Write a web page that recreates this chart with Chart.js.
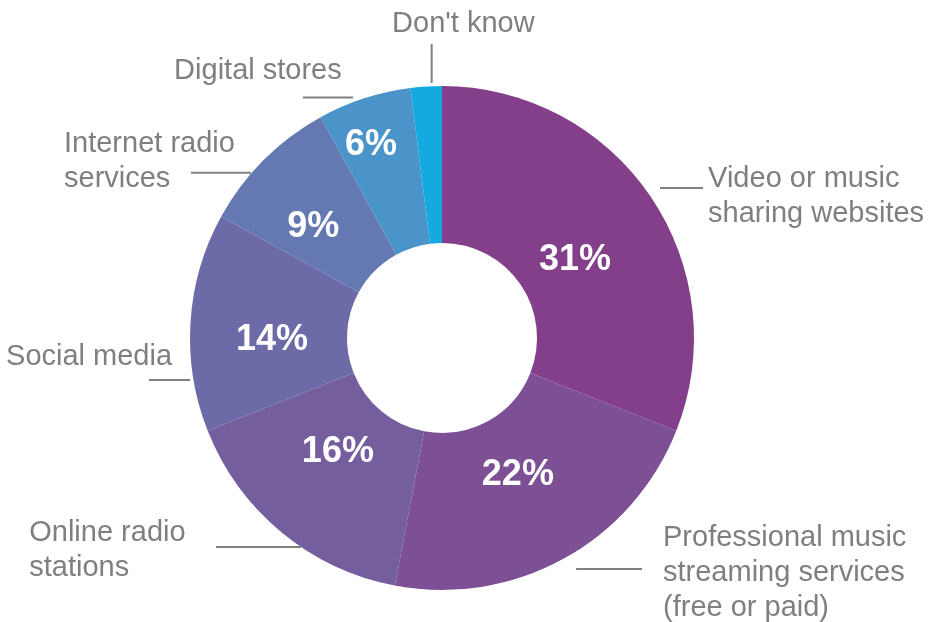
<!DOCTYPE html>
<html>
<head>
<meta charset="utf-8">
<script src="https://cdn.jsdelivr.net/npm/chart.js@4/dist/chart.umd.min.js"></script>
<style>
	html, body { margin: 0; padding: 0; background: #ffffff; }
	canvas { display: block; }
</style>
</head>
<body>
<canvas id="js_chart_canvas" width="929" height="622"></canvas>
<script>

	// Chart data
	let categories = [
		[ "Video or music", "sharing websites" ],
		[ "Professional music", "streaming services", "(free or paid)" ],
		[ "Online radio", "stations" ],
		[ "Social media" ],
		[ "Internet radio", "services" ],
		[ "Digital stores" ],
		[ "Don't know" ]
	]
	let shares = [ 31, 22, 16, 14, 9, 6, 2 ]
	let shareLabels = [ "31%", "22%", "16%", "14%", "9%", "6%", "" ]

	let sliceColors = [
		"#833f89", "#7d5096", "#745e9e", "#6c6ba8", "#6479b2", "#4a94c9", "#14aadf"
	]

	// where the percentage sits in its slice: fraction of the outer radius, and a nudge off the mid angle (degrees)
	let shareLabelRadius = [ 0.622, 0.604, 0.598, 0.675, 0.688, 0.835, 0 ]
	let shareLabelTurn = [ 2.2, -1.1, 4.1, -2.6, -3, -1.7, 0 ]

	// leader line and text spots, in outer-radius units from the centre
	let calloutPlacement = [
		{ line: [ 0.865, -0.595, 1.036, -0.595 ], text: [ 1.056, -0.599 ] },
		{ line: [ 0.532, 0.917, 0.794, 0.917 ], text: [ 0.877, 0.825 ] },
		{ line: [ -0.897, 0.829, -0.560, 0.829 ], text: [ -1.638, 0.805 ] },
		{ line: [ -1.163, 0.167, -1.0, 0.167 ], text: [ -1.730, 0.107 ] },
		{ line: [ -0.996, -0.656, -0.758, -0.656 ], text: [ -1.500, -0.738 ] },
		{ line: [ -0.552, -0.954, -0.353, -0.954 ], text: [ -1.063, -1.026 ] },
		{ line: [ -0.041, -1.167, -0.041, -1.012 ], text: [ -0.198, -1.214 ] }
	]

	let fontFamily = "'Liberation Sans', Arial, Helvetica, sans-serif"

	let labelPlugin = {
		id: "sliceLabels",
		afterDatasetsDraw ( chart ) {
			let ctx = chart.ctx
			let arcs = chart.getDatasetMeta( 0 ).data
			ctx.save()

			// percentages inside the slices
			ctx.fillStyle = "#ffffff"
			ctx.font = "bold 36px " + fontFamily
			ctx.textAlign = "center"
			ctx.textBaseline = "middle"
			arcs.forEach( function ( arc, i ) {
				if ( !shareLabels[ i ] )
					return
				let mid = ( arc.startAngle + arc.endAngle ) / 2 + shareLabelTurn[ i ] * Math.PI / 180
				let r = arc.outerRadius * shareLabelRadius[ i ]
				ctx.fillText( shareLabels[ i ], arc.x + Math.cos( mid ) * r, arc.y + Math.sin( mid ) * r + 5 )
			} )

			// category callouts outside
			ctx.strokeStyle = "#808080"
			ctx.lineWidth = 2
			ctx.fillStyle = "#7f7f7f"
			ctx.font = "29px " + fontFamily
			ctx.textAlign = "left"
			ctx.textBaseline = "alphabetic"
			arcs.forEach( function ( arc, i ) {
				let R = arc.outerRadius
				let p = calloutPlacement[ i ]
				ctx.beginPath()
				ctx.moveTo( arc.x + p.line[ 0 ] * R, arc.y + p.line[ 1 ] * R )
				ctx.lineTo( arc.x + p.line[ 2 ] * R, arc.y + p.line[ 3 ] * R )
				ctx.stroke()
				categories[ i ].forEach( function ( line, k ) {
					ctx.fillText( line, arc.x + p.text[ 0 ] * R, arc.y + p.text[ 1 ] * R + k * 35 )
				} )
			} )

			ctx.restore()
		}
	}

	let chartConfig = {
		type: "doughnut",
		data: {
			labels: categories.map( c => c.join( " " ) ),
			datasets: [ {
				data: shares,
				backgroundColor: sliceColors,
				borderWidth: 0,
				hoverOffset: 0,
				offset: 0
			} ]
		},
		options: {
			responsive: false,
			animation: false,
			cutout: "37.7%",
			layout: {
				padding: { top: 86, bottom: 32, left: 190, right: 235 }
			},
			plugins: {
				legend: { display: false },
				tooltip: { enabled: false }
			}
		},
		plugins: [ labelPlugin ]
	}

	let chart = new Chart( document.getElementById( "js_chart_canvas" ), chartConfig )

</script>
</body>
</html>
